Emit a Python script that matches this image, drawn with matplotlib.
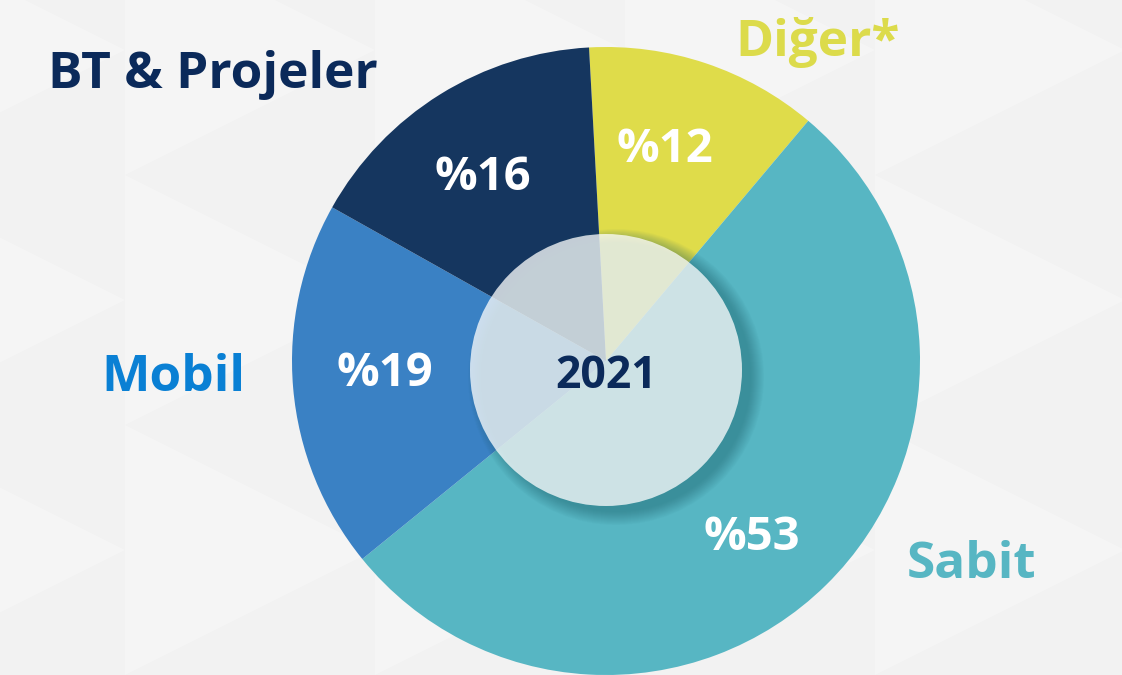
import matplotlib.pyplot as plt
from matplotlib.patches import Circle, Polygon

# data
categories = ['Diğer*', 'Sabit', 'Mobil', 'BT & Projeler']
shares = [12, 53, 19, 16]
wedge_colors = ['#dfdc4a', '#57b6c3', '#3a81c4', '#15365f']
label_colors = ['#dcdb4b', '#57b6c3', '#0a80d4', '#0b2a5a']
year_label = '2021'

W, H = 1122, 675
fig = plt.figure(figsize=(W / 100, H / 100), dpi=100)
fig.patch.set_facecolor('#f2f2f2')
ax = fig.add_axes([0, 0, 1, 1])
ax.set_facecolor('#f2f2f2')

# subtle triangle pattern in the background
for col in range(0, 10):
    x0 = col * 250 - 125
    for row in range(-1, 5):
        y0 = row * 250
        tri = Polygon([(x0, y0), (x0 + 250, y0 + 125), (x0, y0 + 250)],
                      closed=True, facecolor='#f5f5f5', edgecolor='none', zorder=0)
        ax.add_patch(tri)

cx, cy, R = 606, H - 361, 314

wedges, texts, autotexts = ax.pie(
    shares, colors=wedge_colors, startangle=93.1, counterclock=False,
    center=(cx, cy), radius=R, autopct=lambda p: '%{:.0f}'.format(p),
    pctdistance=0.71, wedgeprops=dict(linewidth=0, zorder=2),
    textprops=dict(color='white', fontsize=34, fontweight='bold', family='Open Sans'))
# nudge the percentages to where the reference has them
pct_pos = [(665, H - 150), (752, H - 537), (385, H - 374), (483, H - 177)]
for t, p in zip(autotexts, pct_pos):
    t.set_position(p)
    t.set_zorder(6)

# shadow of the centre disc (falls to the lower right)
for i in range(14):
    ax.add_patch(Circle((cx + 10, cy - 16), 136 + 12 - i, facecolor='#1d5f6a',
                        edgecolor='none', alpha=0.035, zorder=3))
ax.add_patch(Circle((cx, cy - 9), 136, facecolor='white', edgecolor='none',
                    alpha=0.75, zorder=4))
ax.text(cx, cy - 15, year_label, ha='center', va='center', fontsize=32,
        fontweight='bold', color='#0b2a5a', family='Open Sans', zorder=6)

# category labels outside the pie
label_pos = [(735, H - 56, 'left'), (907, H - 578, 'left'),
             (245, H - 391, 'right'), (48, H - 88, 'left')]
for name, col, (x, y, ha) in zip(categories, label_colors, label_pos):
    ax.text(x, y, name, ha=ha, va='baseline', fontsize=37, fontweight='bold',
            color=col, family='Open Sans', zorder=6)

ax.set_xlim(0, W)
ax.set_ylim(0, H)
ax.set_aspect('auto')
ax.axis('off')

fig.savefig('out.png', dpi=100, facecolor=fig.get_facecolor())
